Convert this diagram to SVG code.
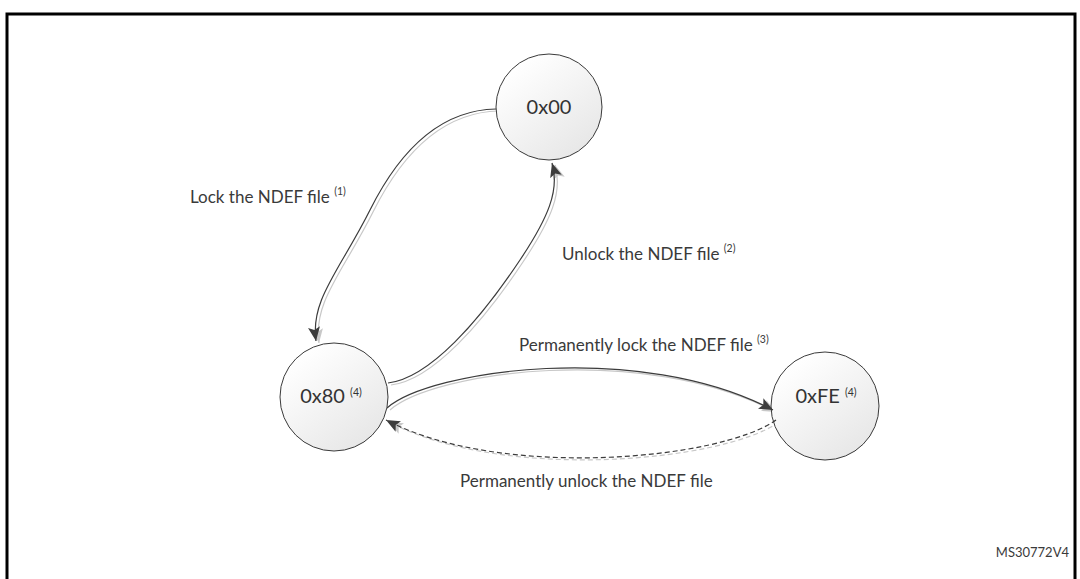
<svg xmlns="http://www.w3.org/2000/svg" width="1080" height="579" viewBox="0 0 1080 579">
<style>
.lbl{font-family:Lato,"Open Sans","Liberation Sans",sans-serif;font-size:17px;fill:#3a3a3a}
.node-t{font-family:Lato,"Open Sans","Liberation Sans",sans-serif;font-size:20px;fill:#333;text-anchor:middle}
.sup{font-size:10.5px}
.st{fill:url(#g1);stroke:#3a3a3a;stroke-width:1}
.c{fill:none;stroke:#3c3c3c;stroke-width:1.2}
.cs{fill:none;stroke:#c8c8c8;stroke-width:1.2}
.dash{stroke-dasharray:5 3}
</style>
<defs>
<linearGradient id="g1" x1="0.2" y1="0.1" x2="0.85" y2="0.95">
<stop offset="0" stop-color="#ffffff"/>
<stop offset="1" stop-color="#e6e6e6"/>
</linearGradient>
<marker id="ah" markerUnits="userSpaceOnUse" markerWidth="16" markerHeight="12" refX="14" refY="6" orient="auto">
<path d="M0,0 L14,6 L0,12 L3,6 Z" fill="#3c3c3c"/>
</marker>
<marker id="ahs" markerUnits="userSpaceOnUse" markerWidth="16" markerHeight="12" refX="14" refY="6" orient="auto">
<path d="M0,0 L14,6 L0,12 L3,6 Z" fill="#c8c8c8"/>
</marker>
</defs>
<rect x="0" y="0" width="1080" height="579" fill="#ffffff"/>
<rect x="7" y="14" width="1068" height="580" fill="none" stroke="#000" stroke-width="3"/>

<g id="connector-shadows" transform="translate(3,2)">
<path class="cs" d="M496,109 C440,110 400,150 370,210 C340,270 310,300 316,341" marker-end="url(#ahs)"/>
<path class="cs" d="M388,383 C430,378 480,320 520,260 C548,218 560,190 552,163" marker-end="url(#ahs)"/>
<path class="cs" d="M387,408 C430,370 640,340 773,410" marker-end="url(#ahs)"/>
<path class="cs dash" d="M776,420 C720,460 500,480 386,420" marker-end="url(#ahs)"/>
</g>

<g id="node-0x00">
<circle class="st" cx="549" cy="107" r="53"/>
<text class="node-t" x="549" y="114">0x00</text>
</g>
<g id="node-0x80">
<circle class="st" cx="334" cy="397" r="54"/>
<text class="node-t" x="331" y="403">0x80 <tspan class="sup" dy="-7">(4)</tspan></text>
</g>
<g id="node-0xFE">
<circle class="st" cx="825" cy="406" r="54"/>
<text class="node-t" x="826" y="403">0xFE <tspan class="sup" dy="-7">(4)</tspan></text>
</g>

<g id="connectors">
<path class="c" d="M496,109 C440,110 400,150 370,210 C340,270 310,300 316,341" marker-end="url(#ah)"/>
<path class="c" d="M388,383 C430,378 480,320 520,260 C548,218 560,190 552,163" marker-end="url(#ah)"/>
<path class="c" d="M387,408 C430,370 640,340 773,410" marker-end="url(#ah)"/>
<path class="c dash" d="M776,420 C720,460 500,480 386,420" marker-end="url(#ah)"/>
</g>

<g id="labels">
<text class="lbl" x="190" y="203">Lock the NDEF file <tspan class="sup" dy="-8">(1)</tspan></text>
<text class="lbl" x="562" y="260">Unlock the NDEF file <tspan class="sup" dy="-8">(2)</tspan></text>
<text class="lbl" x="519" y="351">Permanently lock the NDEF file <tspan class="sup" dy="-8">(3)</tspan></text>
<text class="lbl" x="460" y="487">Permanently unlock the NDEF file</text>
<text class="lbl" x="1069" y="557" style="font-size:13px;text-anchor:end">MS30772V4</text>
</g>
</svg>
